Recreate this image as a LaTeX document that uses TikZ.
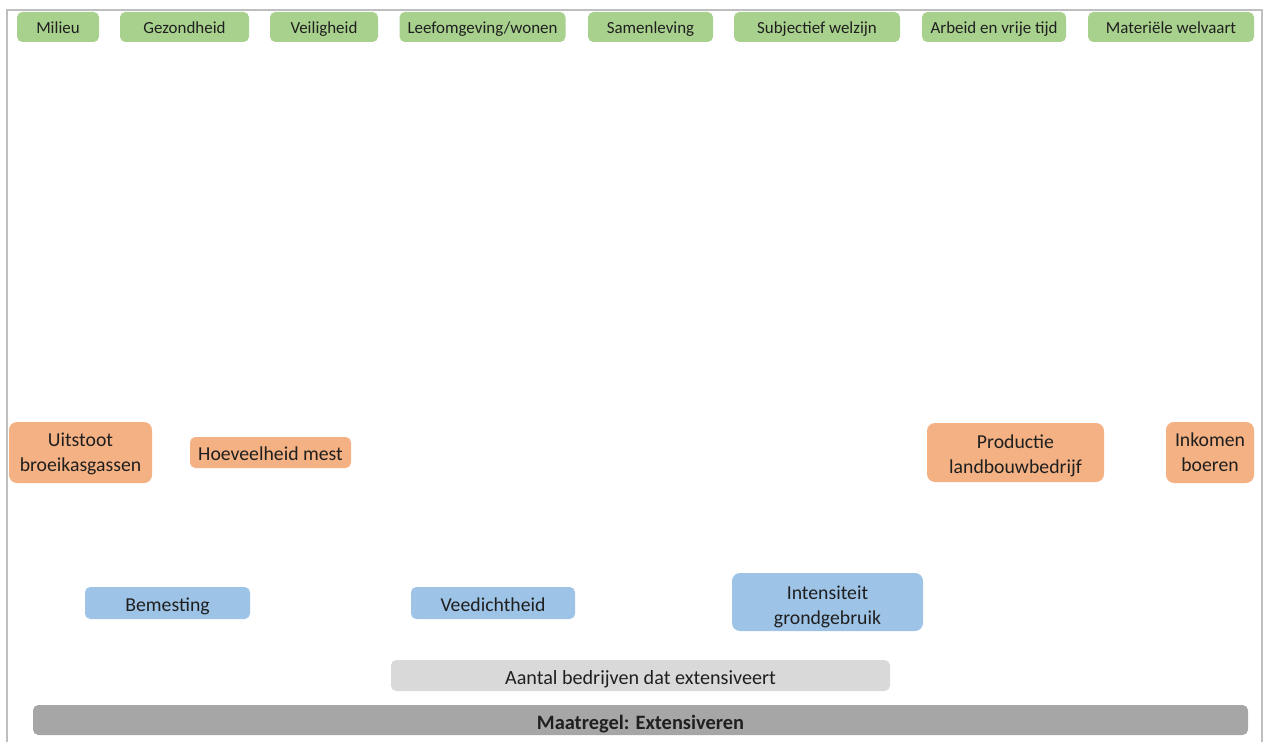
\documentclass[tikz,border=0pt]{standalone}
\usepackage{fontspec}
\setmainfont{Carlito}
\definecolor{grn}{HTML}{A9D18E}
\definecolor{org}{HTML}{F4B183}
\definecolor{blu}{HTML}{9DC3E6}
\definecolor{lgr}{HTML}{D9D9D9}
\definecolor{dgr}{HTML}{A6A6A6}
\definecolor{frm}{HTML}{BFBFBF}
\definecolor{txt}{HTML}{1F1F1F}
\newcommand\mystrutA[1]{\rule{0pt}{#1}}
\newcommand\mystrutB{\rule[-3.5pt]{0pt}{3.5pt}}
\tikzset{
  bx/.style n args={2}{minimum width=#1*0.75pt, minimum height=#2*0.75pt, inner sep=0pt, align=center, text=txt},
  one/.style={text height=#1, text depth=0pt},
  topbox/.style={fill=grn, rounded corners=4pt, font=\fontsize{12.7}{15}\selectfont, one=10.2pt},
  orgbox/.style={fill=org, rounded corners=6pt, font=\fontsize{14.8}{18.75}\selectfont},
  blubox/.style={fill=blu, rounded corners=4pt, font=\fontsize{14.8}{18.75}\selectfont},
  graybox/.style={fill=lgr, rounded corners=4pt, font=\fontsize{15.1}{18}\selectfont, one=13.8pt},
  darkbox/.style={fill=dgr, rounded corners=4pt, font=\fontsize{15.3}{18}\selectfont\bfseries, one=14pt},
}
\begin{document}
\begin{tikzpicture}[x=0.75pt,y=-0.75pt]
\useasboundingbox (0,0) rectangle (1263,742);
\draw[frm, line width=1.5pt] (7,760) -- (7,10) -- (1262,10) -- (1262,760);
% top row
\node[topbox, bx={82}{30}] (milieu) at (58,27) {Milieu};
\node[topbox, bx={129}{30}] (gezond) at (184.5,27) {Gezondheid};
\node[topbox, bx={108}{30}] (veilig) at (324,27) {Veiligheid};
\node[topbox, bx={166}{30}] (leef) at (482.5,27) {Leefomgeving/wonen};
\node[topbox, bx={125}{30}] (samen) at (650.5,27) {Samenleving};
\node[topbox, bx={166}{30}] (subj) at (817,27) {Subjectief welzijn};
\node[topbox, bx={144}{30}] (arbeid) at (994,27) {Arbeid en vrije tijd};
\node[topbox, bx={166}{30}] (mat) at (1171,27) {Materiële welvaart};
% orange
\node[orgbox, bx={143}{61}] (uitstoot) at (80.5,452.5) {\mystrutA{12.5pt}Uitstoot\\broeikasgassen\mystrutB};
\node[orgbox, rounded corners=4pt, one=12.3pt, bx={161}{31}] (mest) at (270.5,452.5) {Hoeveelheid mest};
\node[orgbox, bx={177}{59}] (productie) at (1015.5,452.5) {\mystrutA{16.7pt}Productie\\landbouwbedrijf\mystrutB};
\node[orgbox, bx={88}{61}] (inkomen) at (1210,452.5) {\mystrutA{12.9pt}Inkomen\\boeren\mystrutB};
% blue
\node[blubox, one=12pt, bx={165}{32}] (bemesting) at (167.5,603) {Bemesting};
\node[blubox, one=12pt, bx={164}{32}] (vee) at (493,603) {Veedichtheid};
\node[blubox, rounded corners=6pt, bx={191}{58}] (intens) at (827.5,602) {\mystrutA{18.2pt}Intensiteit\\grondgebruik\mystrutB};
% gray
\node[graybox, bx={499}{31}] (aantal) at (640.5,675.5) {Aantal bedrijven dat extensiveert};
\node[darkbox, bx={1215}{30}] (maatregel) at (640.5,720) {Maatregel: Extensiveren};
\end{tikzpicture}
\end{document}
